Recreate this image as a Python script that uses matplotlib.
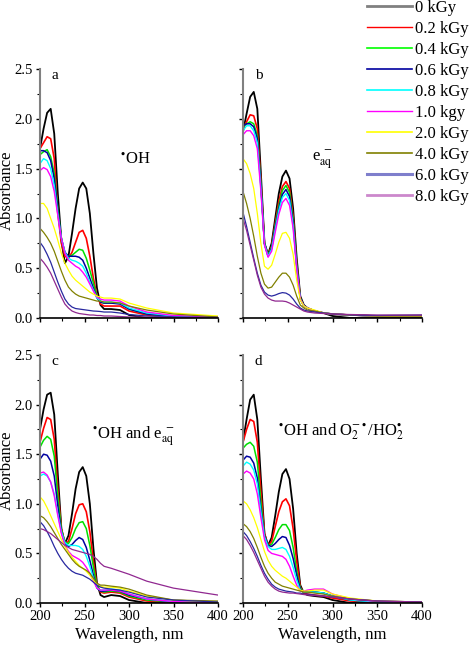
import numpy as np
import matplotlib
matplotlib.use("Agg")
import matplotlib.pyplot as plt
from matplotlib.ticker import MultipleLocator
from matplotlib.lines import Line2D

plt.rcParams['font.family'] = ['Liberation Serif', 'DejaVu Serif']
plt.rcParams['mathtext.fontset'] = 'stix'

# wavelength grid, nm
wl = [200, 204, 208, 212, 216, 220, 224, 228, 232, 236, 240, 244, 248,
      252, 256, 260, 264, 268, 272, 280, 290, 300, 320, 350, 400]

doses = ["0 kGy", "0.2 kGy", "0.4 kGy", "0.6 kGy", "0.8 kGy", "1.0 kgy",
         "2.0 kGy", "4.0 kGy", "6.0 kGy", "8.0 kGy"]

# panel a: *OH
a_abs = [
    [1.70, 1.90, 2.06, 2.10, 1.85, 1.25, 0.78, 0.55, 0.62, 0.85, 1.10, 1.30, 1.36, 1.30, 1.05, 0.65, 0.30, 0.13, 0.09, 0.09, 0.08, 0.03, 0.0, 0.0, 0.0],
    [1.70, 1.76, 1.82, 1.80, 1.60, 1.05, 0.75, 0.62, 0.60, 0.66, 0.76, 0.86, 0.88, 0.80, 0.62, 0.40, 0.22, 0.14, 0.12, 0.12, 0.12, 0.07, 0.03, 0.01, 0.0],
    [1.64, 1.67, 1.69, 1.62, 1.45, 1.10, 0.80, 0.65, 0.62, 0.63, 0.66, 0.69, 0.68, 0.60, 0.48, 0.35, 0.22, 0.16, 0.15, 0.15, 0.15, 0.09, 0.04, 0.015, 0.005],
    [1.68, 1.68, 1.66, 1.58, 1.40, 1.08, 0.80, 0.66, 0.62, 0.62, 0.62, 0.61, 0.58, 0.50, 0.40, 0.30, 0.20, 0.16, 0.15, 0.15, 0.14, 0.09, 0.04, 0.015, 0.005],
    [1.55, 1.60, 1.58, 1.50, 1.33, 1.05, 0.80, 0.66, 0.60, 0.58, 0.57, 0.55, 0.52, 0.45, 0.36, 0.28, 0.20, 0.17, 0.16, 0.16, 0.15, 0.10, 0.05, 0.02, 0.005],
    [1.48, 1.51, 1.49, 1.42, 1.27, 1.03, 0.80, 0.65, 0.58, 0.55, 0.52, 0.50, 0.46, 0.41, 0.34, 0.27, 0.21, 0.19, 0.18, 0.18, 0.17, 0.12, 0.06, 0.025, 0.01],
    [1.15, 1.15, 1.10, 1.00, 0.90, 0.78, 0.65, 0.55, 0.48, 0.42, 0.38, 0.35, 0.32, 0.29, 0.26, 0.24, 0.22, 0.21, 0.20, 0.20, 0.19, 0.15, 0.10, 0.05, 0.02],
    [0.90, 0.86, 0.81, 0.75, 0.67, 0.57, 0.47, 0.38, 0.31, 0.27, 0.24, 0.22, 0.21, 0.20, 0.19, 0.18, 0.17, 0.17, 0.16, 0.16, 0.15, 0.12, 0.08, 0.04, 0.01],
    [0.76, 0.71, 0.64, 0.56, 0.46, 0.36, 0.27, 0.19, 0.14, 0.11, 0.095, 0.09, 0.085, 0.08, 0.075, 0.07, 0.068, 0.065, 0.06, 0.06, 0.05, 0.035, 0.02, 0.01, 0.005],
    [0.60, 0.56, 0.51, 0.45, 0.37, 0.29, 0.21, 0.14, 0.10, 0.07, 0.055, 0.045, 0.04, 0.035, 0.03, 0.03, 0.025, 0.025, 0.02, 0.02, 0.015, 0.01, 0.01, 0.005, 0.0],
]

# panel b: e_aq-
b_abs = [
    [1.87, 2.05, 2.22, 2.27, 2.10, 1.45, 0.75, 0.64, 0.75, 1.00, 1.25, 1.42, 1.48, 1.40, 1.10, 0.60, 0.22, 0.13, 0.10, 0.07, 0.05, 0.02, 0.0, 0.0, 0.0],
    [1.90, 1.97, 2.04, 2.03, 1.90, 1.38, 0.75, 0.63, 0.72, 0.95, 1.17, 1.32, 1.37, 1.30, 1.02, 0.55, 0.20, 0.12, 0.10, 0.07, 0.05, 0.04, 0.03, 0.02, 0.02],
    [1.92, 1.95, 1.97, 1.95, 1.83, 1.35, 0.75, 0.63, 0.71, 0.93, 1.13, 1.28, 1.33, 1.26, 0.99, 0.53, 0.20, 0.12, 0.10, 0.07, 0.05, 0.04, 0.03, 0.02, 0.02],
    [1.93, 1.95, 1.95, 1.92, 1.80, 1.33, 0.75, 0.62, 0.70, 0.91, 1.10, 1.24, 1.29, 1.22, 0.96, 0.52, 0.19, 0.12, 0.10, 0.07, 0.05, 0.04, 0.03, 0.02, 0.02],
    [1.88, 1.93, 1.93, 1.88, 1.76, 1.30, 0.74, 0.62, 0.69, 0.89, 1.08, 1.21, 1.25, 1.18, 0.93, 0.50, 0.19, 0.12, 0.10, 0.07, 0.05, 0.04, 0.03, 0.02, 0.02],
    [1.84, 1.88, 1.88, 1.83, 1.70, 1.27, 0.73, 0.61, 0.67, 0.86, 1.04, 1.16, 1.20, 1.13, 0.90, 0.49, 0.19, 0.12, 0.10, 0.07, 0.05, 0.04, 0.03, 0.02, 0.02],
    [1.60, 1.55, 1.45, 1.30, 1.05, 0.75, 0.52, 0.49, 0.53, 0.64, 0.76, 0.85, 0.86, 0.80, 0.64, 0.38, 0.18, 0.12, 0.10, 0.08, 0.05, 0.04, 0.03, 0.02, 0.02],
    [1.27, 1.15, 1.00, 0.82, 0.62, 0.45, 0.34, 0.30, 0.31, 0.36, 0.41, 0.45, 0.45, 0.41, 0.33, 0.22, 0.13, 0.10, 0.08, 0.07, 0.05, 0.04, 0.03, 0.02, 0.02],
    [1.06, 0.92, 0.76, 0.60, 0.45, 0.33, 0.26, 0.23, 0.22, 0.23, 0.245, 0.255, 0.25, 0.23, 0.19, 0.14, 0.10, 0.08, 0.07, 0.06, 0.05, 0.04, 0.03, 0.025, 0.03],
    [1.00, 0.88, 0.73, 0.58, 0.43, 0.31, 0.24, 0.20, 0.18, 0.17, 0.17, 0.17, 0.165, 0.15, 0.13, 0.11, 0.09, 0.07, 0.06, 0.05, 0.045, 0.04, 0.035, 0.03, 0.03],
]

# panel c: *OH and e_aq-
c_abs = [
    [1.75, 1.95, 2.10, 2.12, 1.90, 1.30, 0.75, 0.60, 0.68, 0.90, 1.15, 1.32, 1.37, 1.28, 1.00, 0.55, 0.20, 0.08, 0.06, 0.08, 0.07, 0.03, 0.0, 0.0, 0.0],
    [1.62, 1.76, 1.87, 1.85, 1.65, 1.15, 0.75, 0.60, 0.62, 0.75, 0.90, 0.99, 1.00, 0.92, 0.72, 0.42, 0.18, 0.11, 0.10, 0.11, 0.10, 0.06, 0.02, 0.01, 0.0],
    [1.57, 1.64, 1.68, 1.65, 1.48, 1.08, 0.74, 0.61, 0.60, 0.66, 0.75, 0.81, 0.82, 0.75, 0.58, 0.36, 0.17, 0.12, 0.11, 0.12, 0.11, 0.07, 0.03, 0.01, 0.0],
    [1.45, 1.50, 1.49, 1.43, 1.28, 0.98, 0.72, 0.60, 0.57, 0.59, 0.63, 0.66, 0.64, 0.56, 0.43, 0.28, 0.15, 0.12, 0.12, 0.13, 0.12, 0.08, 0.04, 0.01, 0.0],
    [1.28, 1.30, 1.28, 1.22, 1.10, 0.90, 0.72, 0.61, 0.58, 0.58, 0.58, 0.57, 0.54, 0.47, 0.37, 0.25, 0.15, 0.13, 0.13, 0.14, 0.13, 0.09, 0.04, 0.015, 0.0],
    [1.31, 1.32, 1.29, 1.22, 1.08, 0.88, 0.70, 0.58, 0.52, 0.48, 0.46, 0.44, 0.41, 0.36, 0.30, 0.22, 0.15, 0.13, 0.13, 0.13, 0.12, 0.09, 0.04, 0.015, 0.0],
    [1.07, 1.03, 0.96, 0.88, 0.80, 0.72, 0.64, 0.57, 0.51, 0.46, 0.42, 0.38, 0.35, 0.32, 0.28, 0.23, 0.19, 0.17, 0.16, 0.16, 0.15, 0.12, 0.07, 0.03, 0.01],
    [0.88, 0.86, 0.82, 0.77, 0.71, 0.65, 0.59, 0.54, 0.49, 0.44, 0.40, 0.37, 0.35, 0.33, 0.30, 0.25, 0.20, 0.18, 0.18, 0.17, 0.16, 0.14, 0.08, 0.03, 0.02],
    [0.82, 0.78, 0.72, 0.65, 0.57, 0.50, 0.44, 0.39, 0.35, 0.32, 0.30, 0.29, 0.28, 0.26, 0.24, 0.21, 0.18, 0.16, 0.15, 0.14, 0.13, 0.11, 0.06, 0.03, 0.01],
    [0.75, 0.74, 0.72, 0.70, 0.67, 0.64, 0.61, 0.58, 0.56, 0.54, 0.53, 0.52, 0.51, 0.50, 0.49, 0.47, 0.44, 0.40, 0.37, 0.35, 0.32, 0.29, 0.22, 0.15, 0.08],
]

# panel d: *OH and O2-*/HO2*
d_abs = [
    [1.63, 1.85, 2.05, 2.10, 1.85, 1.25, 0.70, 0.58, 0.66, 0.88, 1.12, 1.30, 1.35, 1.25, 0.95, 0.50, 0.18, 0.10, 0.08, 0.07, 0.06, 0.03, 0.0, 0.0, 0.0],
    [1.62, 1.75, 1.85, 1.83, 1.62, 1.12, 0.70, 0.58, 0.62, 0.77, 0.92, 1.02, 1.05, 0.98, 0.75, 0.42, 0.16, 0.10, 0.09, 0.08, 0.07, 0.05, 0.02, 0.01, 0.0],
    [1.56, 1.60, 1.62, 1.58, 1.42, 1.02, 0.68, 0.58, 0.59, 0.66, 0.74, 0.79, 0.79, 0.73, 0.56, 0.32, 0.15, 0.11, 0.11, 0.11, 0.10, 0.07, 0.03, 0.01, 0.0],
    [1.44, 1.48, 1.47, 1.41, 1.26, 0.95, 0.68, 0.58, 0.57, 0.60, 0.64, 0.67, 0.66, 0.58, 0.45, 0.28, 0.14, 0.11, 0.11, 0.11, 0.10, 0.07, 0.03, 0.01, 0.0],
    [1.38, 1.42, 1.40, 1.34, 1.20, 0.92, 0.67, 0.57, 0.54, 0.54, 0.55, 0.56, 0.54, 0.47, 0.36, 0.23, 0.13, 0.11, 0.11, 0.11, 0.10, 0.07, 0.03, 0.01, 0.0],
    [1.30, 1.33, 1.31, 1.25, 1.10, 0.86, 0.64, 0.53, 0.50, 0.49, 0.48, 0.47, 0.44, 0.37, 0.27, 0.18, 0.12, 0.12, 0.13, 0.14, 0.14, 0.09, 0.04, 0.015, 0.0],
    [1.03, 1.00, 0.94, 0.86, 0.76, 0.64, 0.52, 0.43, 0.37, 0.33, 0.30, 0.27, 0.25, 0.22, 0.19, 0.16, 0.13, 0.12, 0.12, 0.13, 0.13, 0.09, 0.05, 0.02, 0.01],
    [0.80, 0.77, 0.72, 0.65, 0.56, 0.46, 0.37, 0.30, 0.25, 0.21, 0.19, 0.17, 0.16, 0.15, 0.14, 0.13, 0.12, 0.11, 0.11, 0.10, 0.09, 0.07, 0.04, 0.02, 0.01],
    [0.72, 0.68, 0.62, 0.55, 0.47, 0.38, 0.30, 0.24, 0.19, 0.16, 0.14, 0.13, 0.12, 0.115, 0.11, 0.10, 0.10, 0.09, 0.09, 0.08, 0.07, 0.06, 0.04, 0.02, 0.01],
    [0.68, 0.64, 0.58, 0.51, 0.43, 0.35, 0.27, 0.21, 0.17, 0.14, 0.12, 0.11, 0.105, 0.10, 0.10, 0.095, 0.09, 0.085, 0.08, 0.075, 0.07, 0.06, 0.04, 0.02, 0.01],
]

colors = ['#000000', '#ff0000', '#00e000', '#0000a0', '#00ffff', '#ff00ff',
          '#ffff00', '#808000', '#2828a0', '#902890']
widths = [1.3, 1.2, 1.1, 1.1, 1.0, 1.0, 0.9, 0.9, 0.9, 0.9]
# the legend keys look a little different from the curves in the original
legend_colors = ['#808080', '#ff0000', '#00ff00', '#0000a0', '#00ffff', '#ff00ff',
                 '#ffff00', '#808000', '#7f7fcc', '#cc88cc']
legend_widths = [2.0, 1.0, 1.2, 1.2, 1.2, 1.0, 1.2, 1.2, 2.2, 2.0]

fig = plt.figure(figsize=(4.70, 6.47), dpi=100)
W, H = 470.0, 647.0

def make_ax(x0, x1, ytop, ybot):
    return fig.add_axes([x0 / W, 1 - ybot / H, (x1 - x0) / W, (ybot - ytop) / H])

ax_a = make_ax(40, 218, 69, 318)
ax_b = make_ax(243, 422, 69, 318)
ax_c = make_ax(40, 218, 355, 603)
ax_d = make_ax(243, 422, 355, 603)

panels = [(ax_a, a_abs, 'a'), (ax_b, b_abs, 'b'), (ax_c, c_abs, 'c'), (ax_d, d_abs, 'd')]
for ax, data, letter in panels:
    for i in range(len(doses)):
        ax.plot(wl, data[i], color=colors[i], lw=widths[i])
    ax.set_xlim(200, 400)
    ax.set_ylim(0, 2.5)
    ax.xaxis.set_major_locator(MultipleLocator(50))
    ax.xaxis.set_minor_locator(MultipleLocator(25))
    ax.yaxis.set_major_locator(MultipleLocator(0.5))
    ax.yaxis.set_minor_locator(MultipleLocator(0.25))
    ax.spines['top'].set_visible(False)
    ax.spines['right'].set_visible(False)
    ax.spines['left'].set_color('#808080')
    ax.spines['left'].set_linewidth(1.5)
    ax.spines['bottom'].set_linewidth(1.2)
    ax.tick_params(which='major', direction='out', length=3, width=1, pad=2, labelsize=10.5)
    ax.tick_params(which='minor', direction='out', length=2, width=0.8)
    ax.yaxis.set_major_formatter(matplotlib.ticker.FormatStrFormatter('%.1f'))
    ax.text(0.065, 1.0, letter, transform=ax.transAxes, fontsize=11, va='top')

ax_a.tick_params(labelbottom=False)
ax_b.tick_params(labelbottom=False, labelleft=False)
ax_d.tick_params(labelleft=False)

fig.text(7 / W, 1 - 190 / H, 'Absorbance', rotation=90, fontsize=12, ha='center', va='center')
fig.text(7 / W, 1 - 470 / H, 'Absorbance', rotation=90, fontsize=12, ha='center', va='center')
fig.text(129 / W, 1 - 635 / H, 'Wavelength, nm', fontsize=12, ha='center', va='center')
fig.text(332 / W, 1 - 635 / H, 'Wavelength, nm', fontsize=12, ha='center', va='center')

fig.text(120 / W, 1 - 160 / H, r'$^{\bullet}$OH', fontsize=12, va='center')
fig.text(312 / W, 1 - 160 / H, r'e$_{\mathrm{aq}}^{\;-}$', fontsize=12, va='center')
fig.text(92 / W, 1 - 436 / H, r'$^{\bullet}$OH and e$_{\mathrm{aq}}^{\;-}$', fontsize=12, va='center')
fig.text(278 / W, 1 - 432 / H, r'$^{\bullet}$OH and O$_2^{-\bullet}$/HO$_2^{\bullet}$', fontsize=12, va='center')

handles = [Line2D([], [], color=legend_colors[i], lw=legend_widths[i]) for i in range(len(doses))]
fig.legend(handles, doses, loc='upper left', bbox_to_anchor=(364 / W, 1.005),
           frameon=False, fontsize=12, handlelength=2.65, handletextpad=0.2,
           labelspacing=0.3, borderpad=0.2, borderaxespad=0)

fig.savefig('out.png', dpi=100)
